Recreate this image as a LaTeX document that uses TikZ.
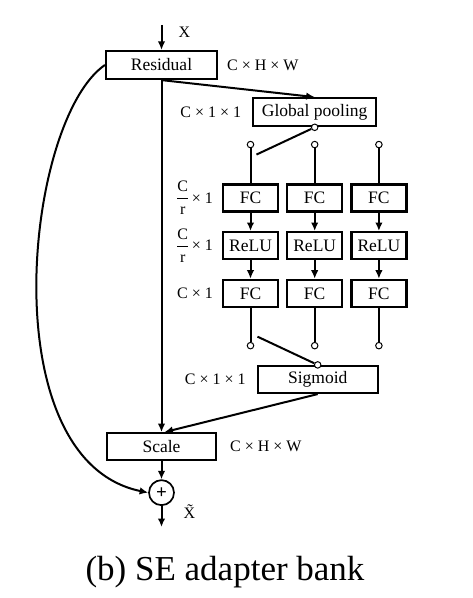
\documentclass[tikz,border=0pt]{standalone}
\usepackage{fontspec}
\usepackage{amsmath}
\setmainfont{Liberation Serif}
\usetikzlibrary{arrows.meta, positioning, calc}

\begin{document}
\begin{tikzpicture}[x=1pt, y=-1pt, >={Latex[length=8.5pt,width=7.5pt]}, line width=2pt,
        block/.style={draw, line width=2.2pt, minimum height=27pt, inner sep=0pt, font=\fontsize{17.5}{20}\selectfont},
        fcnode/.style={block, minimum width=55pt},
        dot/.style={circle, draw, fill=white, line width=1pt, minimum size=6.5pt, inner sep=0pt},
        lbl/.style={inner sep=0pt, font=\fontsize{16}{18}\selectfont}]
        \useasboundingbox (0,0) rectangle (472,598);
        \node[block, minimum width=111pt, minimum height=28pt] (res) at (161.5,65) {Residual};
        \node[block, minimum width=123pt, minimum height=28pt] (gp) [below right=17pt and 34pt of res] {Global pooling};
        \node[dot] (gpdot) at (gp.south) {};

        % three branches
        \node[fcnode] (fcin2) [below=56pt of gp] {FC};
        \node[fcnode] (fcin1) [left=7pt of fcin2] {FC};
        \node[fcnode] (fcin3) [right=7pt of fcin2] {FC};
        \node[fcnode] (relu1) [below=18.5pt of fcin1] {ReLU};
        \node[fcnode] (relu2) [below=18.5pt of fcin2] {ReLU};
        \node[fcnode] (relu3) [below=18.5pt of fcin3] {ReLU};
        \node[fcnode] (fcout1) [below=18.5pt of relu1] {FC};
        \node[fcnode] (fcout2) [below=18.5pt of relu2] {FC};
        \node[fcnode] (fcout3) [below=18.5pt of relu3] {FC};

        \node[dot] (top1) [above=35pt of fcin1] {};
        \node[dot] (top2) [above=35pt of fcin2] {};
        \node[dot] (top3) [above=35pt of fcin3] {};
        \node[dot] (bot1) [below=34pt of fcout1] {};
        \node[dot] (bot2) [below=34pt of fcout2] {};
        \node[dot] (bot3) [below=34pt of fcout3] {};
        \coordinate (sw1) at ($(top1)+(6,10)$);
        \coordinate (sw2) at ($(bot1)+(7,-9)$);

        \node[block, minimum width=120pt] (sig) [below=57pt of fcout2, xshift=3pt] {Sigmoid};
        \node[dot] (sigdot) at (sig.north) {};
        \node[block, minimum width=109pt] (scale) [below=352pt of res] {Scale};
        \node[circle, draw, minimum size=25pt, inner sep=0pt, line width=1.7pt, font=\bfseries\fontsize{19}{19}\selectfont] (plus) [below=18pt of scale] {+};
        \coordinate[above=25pt of res] (in);
        \coordinate[below=21pt of plus] (out);

        \draw[->] (in) -- (res);
        \draw[->] (res.south) -- (gp.north);
        \draw[->] (res) -- (scale);
        \draw (gpdot) -- (sw1);
        \draw (top1) -- (fcin1);
        \draw (top2) -- (fcin2);
        \draw (top3) -- (fcin3);
        \draw[->] (fcin1) -- (relu1);
        \draw[->] (fcin2) -- (relu2);
        \draw[->] (fcin3) -- (relu3);
        \draw[->] (relu1) -- (fcout1);
        \draw[->] (relu2) -- (fcout2);
        \draw[->] (relu3) -- (fcout3);
        \draw (fcout1) -- (bot1);
        \draw (fcout2) -- (bot2);
        \draw (fcout3) -- (bot3);
        \draw (sw2) -- (sigdot);
        \draw[->] (sig.south) -- ([xshift=3pt]scale.north);
        \draw[->] (scale) -- (plus);
        \draw[->] (plus) -- (out);
        \draw[->] (res.west) .. controls (25,120) and (-10,460) .. (plus.west);

        % sizes
        \node[lbl] (xlab) at ($(in)+(23,7)$) {X};
        \node[lbl, right=8pt of res] {C × H × W};
        \node[lbl, left=10pt of gp] {C × 1 × 1};
        \node[lbl, left=8pt of fcin1] {\(\dfrac{\text{C}}{\text{r}}\)\,× 1};
        \node[lbl, left=8pt of relu1] {\(\dfrac{\text{C}}{\text{r}}\)\,× 1};
        \node[lbl, left=8pt of fcout1] {C × 1};
        \node[lbl, left=10pt of sig] {C × 1 × 1};
        \node[lbl, right=12pt of scale] {C × H × W};
        \node[lbl] (xtlab) at ($(plus)+(28,19)$) {X̃};

        \node[anchor=base, font=\fontsize{35}{40}\selectfont] (caption) at (225,580) {(b) SE adapter bank};
    \end{tikzpicture}
\end{document}
